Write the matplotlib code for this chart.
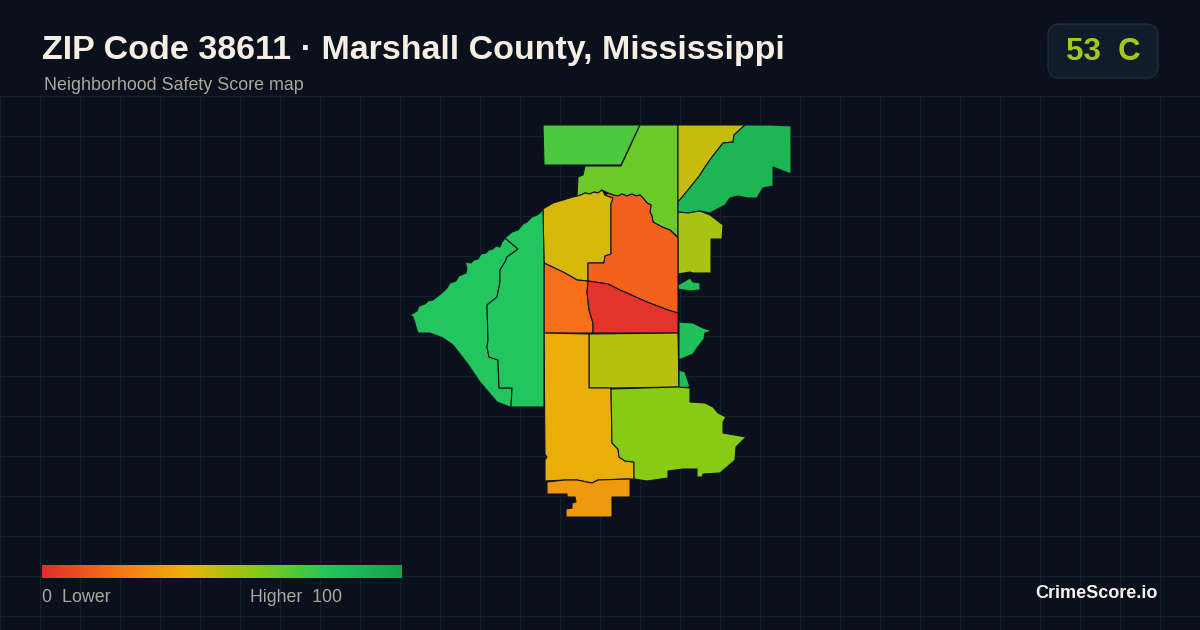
#!/usr/bin/env python
import matplotlib
matplotlib.use("Agg")
import matplotlib.pyplot as plt
import numpy as np
from matplotlib.colors import LinearSegmentedColormap, Normalize
from matplotlib.patches import FancyBboxPatch, Polygon

plt.rcParams['font.family'] = ['Liberation Sans', 'DejaVu Sans']

title = "ZIP Code 38611 · Marshall County, Mississippi"
subtitle = "Neighborhood Safety Score map"
badge_text = "53  C"
legend_low = "0  Lower"
legend_high = "Higher  100"
brand = "CrimeScore.io"

#scale stops
stop_values = [0, 20, 40, 60, 80, 100]
stop_colors = ["#e02d2d", "#f97316", "#eab308", "#84cc16", "#22c55e", "#16a34a"]

#score per area
area_scores = {
    "north_west": 71, "north_mid": 65, "north_east_strip": 47, "north_east": 89,
    "east_a": 53, "east_b": 84, "mid_west_top": 44, "mid_top": 15,
    "mid_west": 19, "mid_red": 2, "mid_south": 50, "east_c": 83, "east_d": 85,
    "south_west": 38, "south_east": 59, "south_tip": 32, "west_a": 80, "west_b": 80,
}

#area outlines in image pixels
area_shapes = {
    "north_west": [(543, 125), (640, 125), (621, 165), (544, 165)],
    "north_mid": [(640, 125), (678, 125), (678, 202), (678, 237), (670, 230), (662, 227), (653, 222), (652, 216),
                  (650, 212), (651, 205), (647, 203), (643, 198), (640, 195), (636, 196), (632, 194), (627, 196),
                  (622, 194), (618, 196), (613, 195), (608, 193), (602, 190), (598, 193), (594, 192), (590, 194),
                  (585, 193), (581, 195), (577, 196), (578, 177), (583, 175), (585, 166), (621, 166)],
    "north_east_strip": [(678, 125), (745, 125), (734, 135), (733, 142), (723, 143), (712, 157), (705, 167),
                         (700, 175), (688, 190), (678, 202)],
    "north_east": [(745, 125), (772, 125), (791, 126), (791, 174), (773, 167), (773, 186), (763, 188), (757, 198),
                   (748, 198), (738, 196), (730, 198), (725, 205), (710, 213), (700, 211), (688, 213), (678, 212),
                   (678, 202), (688, 190), (700, 175), (705, 167), (712, 157), (723, 143), (733, 142), (734, 135)],
    "east_a": [(678, 212), (688, 213), (700, 211), (710, 215), (723, 225), (722, 239), (711, 239), (711, 273),
               (693, 273), (690, 272), (678, 274)],
    "east_b": [(678, 285), (690, 278), (693, 282), (700, 283), (700, 290), (690, 291), (678, 289)],
    "mid_west_top": [(543, 209), (553, 203), (573, 197), (581, 195), (585, 193), (590, 194), (594, 192), (598, 193),
                     (602, 190), (605, 195), (613, 198), (611, 204), (611, 254), (605, 256), (604, 263), (588, 263),
                     (588, 281), (577, 280), (572, 277), (563, 272), (544, 263)],
    "mid_top": [(605, 195), (608, 193), (613, 195), (618, 196), (622, 194), (627, 196), (632, 194), (636, 196),
                (640, 195), (643, 198), (647, 203), (651, 205), (650, 212), (652, 216), (653, 222), (662, 227),
                (670, 230), (678, 238), (678, 313), (668, 310), (647, 302), (620, 290), (608, 284), (588, 281),
                (588, 263), (604, 263), (605, 256), (611, 254), (611, 204), (613, 198)],
    "mid_west": [(544, 263), (563, 272), (572, 277), (577, 280), (588, 281), (587, 292), (589, 310), (593, 323),
                 (593, 333), (544, 333)],
    "mid_red": [(588, 281), (608, 284), (620, 290), (647, 302), (668, 310), (678, 313), (678, 333), (593, 333),
                (593, 323), (589, 310), (587, 292)],
    "mid_south": [(589, 334), (678, 333), (679, 387), (611, 388), (589, 388)],
    "east_c": [(679, 322), (693, 323), (703, 328), (712, 331), (705, 333), (704, 339), (697, 348), (693, 354),
               (679, 360)],
    "east_d": [(679, 370), (685, 372), (690, 387), (679, 388)],
    "south_west": [(544, 333), (589, 334), (589, 388), (611, 388), (612, 443), (618, 449), (619, 457), (625, 461),
                   (634, 462), (634, 479), (625, 479), (598, 480), (592, 483), (577, 480), (565, 480), (545, 481),
                   (545, 460), (547, 457), (545, 454)],
    "south_east": [(611, 389), (678, 387), (690, 388), (690, 402), (705, 403), (713, 407), (718, 413), (726, 417),
                   (723, 422), (723, 433), (746, 437), (736, 447), (735, 460), (727, 467), (720, 473), (703, 474),
                   (702, 477), (697, 477), (697, 469), (683, 469), (668, 471), (668, 478), (647, 481), (634, 479),
                   (634, 462), (625, 461), (619, 457), (618, 449), (612, 443)],
    "south_tip": [(547, 482), (565, 480), (577, 480), (592, 483), (598, 480), (630, 479), (630, 497), (612, 497),
                  (612, 517), (566, 517), (566, 509), (572, 508), (572, 503), (576, 502), (575, 497), (567, 497),
                  (567, 494), (547, 494)],
    "west_a": [(505, 238), (502, 242), (500, 247), (496, 246), (493, 249), (489, 250), (486, 253), (481, 254),
               (478, 259), (474, 260), (471, 263), (465, 262), (467, 268), (466, 273), (459, 276), (456, 281),
               (450, 283), (447, 288), (443, 292), (438, 296), (433, 300), (428, 301), (425, 304), (419, 306),
               (417, 311), (410, 315), (413, 317), (418, 333), (430, 333), (443, 338), (453, 345), (467, 363),
               (480, 382), (497, 402), (510, 407), (511, 407), (512, 388), (499, 388), (498, 360), (489, 357),
               (487, 347), (488, 340), (487, 305), (497, 297), (500, 282), (500, 270), (505, 262), (507, 257),
               (518, 249)],
    "west_b": [(543, 209), (540, 213), (537, 215), (532, 217), (527, 222), (523, 224), (518, 230), (512, 232),
               (505, 238), (518, 249), (507, 257), (505, 262), (500, 270), (500, 282), (497, 297), (487, 305),
               (488, 340), (487, 347), (489, 357), (498, 360), (499, 388), (512, 388), (511, 407), (544, 407),
               (544, 333), (544, 263)],
}

scale_cmap = LinearSegmentedColormap.from_list(
    "score", [(v / 100, c) for v, c in zip(stop_values, stop_colors)])
norm = Normalize(0, 100)

fig = plt.figure(figsize=(12, 6.3), dpi=100, facecolor="#0a111d")
ax = fig.add_axes([0, 0, 1, 1])
ax.set_xlim(0, 1200)
ax.set_ylim(630, 0)
ax.axis("off")

#grid
ax.vlines(np.arange(0, 1200, 40), 96, 630, color="#13202d", lw=1, zorder=1)
ax.hlines(np.arange(96, 630, 40), 0, 1200, color="#13202d", lw=1, zorder=1)

#map
for name, shape in area_shapes.items():
    ax.add_patch(Polygon(shape, closed=True, facecolor=scale_cmap(norm(area_scores[name])),
                         edgecolor="#0c1420", lw=0.8, joinstyle="round", zorder=2))

#title
ax.text(42, 50, title, color="#f7eee3", fontsize=24.5, fontweight="bold", va="center", ha="left", zorder=4)
ax.text(44, 85.5, subtitle, color="#aca79b", fontsize=12.85, va="center", ha="left", zorder=4)

#badge
ax.add_patch(FancyBboxPatch((1060, 36), 86, 30, boxstyle="round,pad=12,rounding_size=12", facecolor="#111c2a",
                            edgecolor="#233140", lw=0.8, zorder=3))
ax.text(1103, 52.5, badge_text, color="#a6c81c", fontsize=22.5, fontweight="bold", va="center", ha="center", zorder=4)

#legend
ax.imshow(np.linspace(0, 100, 360).reshape(1, -1), cmap=scale_cmap, norm=norm, extent=(42, 402, 578, 565),
          aspect="auto", zorder=3)
ax.set_xlim(0, 1200)
ax.set_ylim(630, 0)
ax.text(42, 597, legend_low, color="#aca79b", fontsize=12.9, va="center", ha="left", zorder=4)
ax.text(342, 597, legend_high, color="#aca79b", fontsize=12.8, va="center", ha="right", zorder=4)
ax.text(1158, 594, brand, color="#f7f3ec", fontsize=13, fontweight="bold", va="center", ha="right", zorder=4)

plt.savefig("out.png", dpi=100, facecolor=fig.get_facecolor())
plt.close()
